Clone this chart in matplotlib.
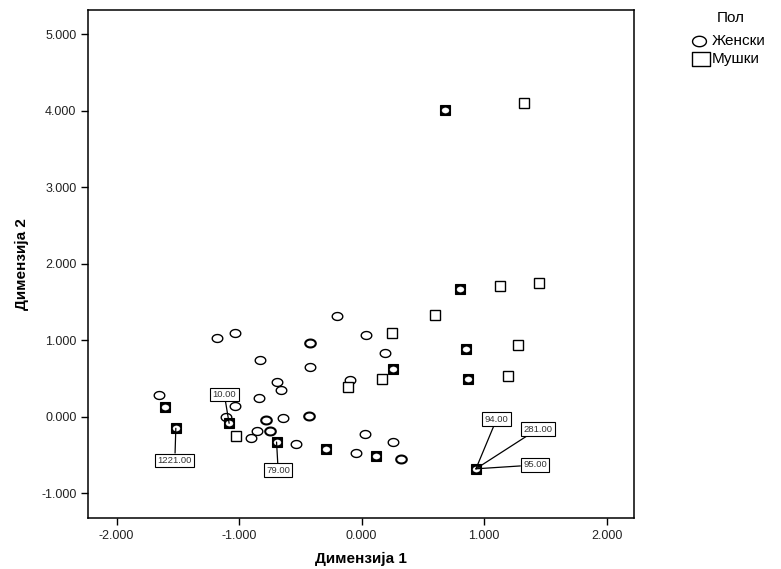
import numpy as np
import matplotlib
matplotlib.use('Agg')
import matplotlib.pyplot as plt
from matplotlib.path import Path
from matplotlib.lines import Line2D

plt.rcParams['font.family'] = ['Liberation Sans', 'DejaVu Sans']

# Object points (Dimension 1, Dimension 2)
# Женски (circles) - repeated coordinates are cases lying on top of each other
female_x = [-0.204, -1.184, -1.034, -0.422, -0.422, -0.830, -0.422, -0.694, -0.661,
            -0.836, -1.652, -1.034, -1.108, -0.784, -0.784, -0.645, -0.428, -0.428,
            -0.857, -0.746, -0.746, -0.904, -0.536, 0.033, 0.190, -0.096, 0.027,
            0.258, -0.047, 0.321, 0.321,
            -1.603, -1.081, -1.516, -0.694, -0.291, 0.805, 0.851, 0.258, 0.870,
            0.117, 0.933, 0.680]
female_y = [1.32, 1.03, 1.10, 0.97, 0.97, 0.74, 0.65, 0.46, 0.35,
            0.25, 0.28, 0.14, 0.00, -0.04, -0.04, -0.01, 0.01, 0.01,
            -0.18, -0.19, -0.19, -0.28, -0.36, 1.07, 0.84, 0.48, -0.22,
            -0.33, -0.47, -0.55, -0.55,
            0.13, -0.085, -0.15, -0.33, -0.42, 1.67, 0.89, 0.62, 0.49,
            -0.51, -0.68, 4.01]
# Мушки (squares)
male_x = [-1.026, 0.598, 0.250, 1.278, -0.114, 0.163, 1.192, 1.129, 1.450, 1.325,
          -1.603, -1.081, -1.516, -0.694, -0.291, 0.805, 0.851, 0.258, 0.870,
          0.117, 0.933, 0.680]
male_y = [-0.25, 1.33, 1.09, 0.94, 0.39, 0.50, 0.53, 1.71, 1.75, 4.10,
          0.13, -0.085, -0.15, -0.33, -0.42, 1.67, 0.89, 0.62, 0.49,
          -0.51, -0.68, 4.01]

# labelled cases
case_ids = ['10.00', '1221.00', '79.00', '94.00', '281.00', '95.00']
case_x = [-1.081, -1.516, -0.694, 0.933, 0.933, 0.933]
case_y = [-0.085, -0.15, -0.33, -0.68, -0.68, -0.68]

xticks = [-2, -1, 0, 1, 2]
yticks = [-1, 0, 1, 2, 3, 4, 5]

# flattened circle marker (SPSS draws them a bit wide)
t = np.linspace(0, 2*np.pi, 60)
ellipse = Path(np.column_stack([np.cos(t), 0.75*np.sin(t)]), closed=True)
rect = Path([(-1, -0.78), (1, -0.78), (1, 0.78), (-1, 0.78), (-1, -0.78)], closed=True)

W, H = 781, 569
fig = plt.figure(figsize=(W/100, H/100), dpi=100)
ax = fig.add_axes([0.1131, 0.0891, 0.6987, 0.8933])

fem = list(zip(female_x, female_y))
mal = list(zip(male_x, male_y))
both = [p for p in dict.fromkeys(fem) if p in mal]

# circles (thicker where cases repeat)
for p in dict.fromkeys(fem):
    if p in both:
        continue
    lw = 1.5 if fem.count(p) > 1 else 1.0
    ax.plot(p[0], p[1], marker=ellipse, ms=7.6, mfc='white', mec='black', mew=lw, ls='none')
# squares
for p in dict.fromkeys(mal):
    if p in both:
        continue
    ax.plot(p[0], p[1], marker='s', ms=6.6, mfc='white', mec='black', mew=1.0, ls='none')
# a man and a woman on the same spot
for p in both:
    ax.plot(p[0], p[1], marker='s', ms=7.6, mfc='black', mec='black', mew=0.8, ls='none')
    ax.plot(p[0], p[1], marker=ellipse, ms=5.0, mfc='white', mec='white', mew=0.3, ls='none')

# case labels
text_pos = [(-1.12, 0.29), (-1.524, -0.57), (-0.681, -0.70),
            (1.102, -0.03), (1.437, -0.16), (1.415, -0.63)]
for lab, x0, y0, (tx, ty) in zip(case_ids, case_x, case_y, text_pos):
    ax.annotate(lab, xy=(x0, y0), xytext=(tx, ty), fontsize=6.8, ha='center', va='center',
                color='#333333',
                bbox=dict(boxstyle='square,pad=0.25', fc='white', ec='black', lw=0.8),
                arrowprops=dict(arrowstyle='-', lw=0.9, color='black', shrinkA=0, shrinkB=0))

ax.set_xlim(-2.23, 2.223)
ax.set_ylim(-1.327, 5.318)
ax.set_xticks(xticks)
ax.set_yticks(yticks)
ax.set_xticklabels(['%.3f' % v for v in xticks])
ax.set_yticklabels(['%.3f' % v for v in yticks])
ax.tick_params(direction='out', length=5, width=1.0, labelsize=9, colors='black',
               labelcolor='#222222')
for s in ax.spines.values():
    s.set_linewidth(1.1)
ax.set_xlabel('Димензија 1', fontsize=11, fontweight='bold', labelpad=7)
ax.set_ylabel('Димензија 2', fontsize=11, fontweight='bold', labelpad=9)

# legend outside on the right, laid out by hand like the SPSS one
fig.text(731/W, 1 - 18/H, 'Пол', fontsize=11, ha='center', va='center')
leg_marks = [ellipse, rect]
leg_sizes = [10, 12.5]
leg_labels = ['Женски', 'Мушки']
for i, (m, ms, lab) in enumerate(zip(leg_marks, leg_sizes, leg_labels)):
    yy = 1 - (41 + 18*i)/H
    fig.add_artist(Line2D([(699 + 2*i)/W], [yy], transform=fig.transFigure, marker=m, ms=ms,
                          mfc='white', mec='black', mew=1.0, ls='none'))
    fig.text(712/W, yy, lab, fontsize=11, ha='left', va='center')

fig.savefig('out.png', dpi=100)
